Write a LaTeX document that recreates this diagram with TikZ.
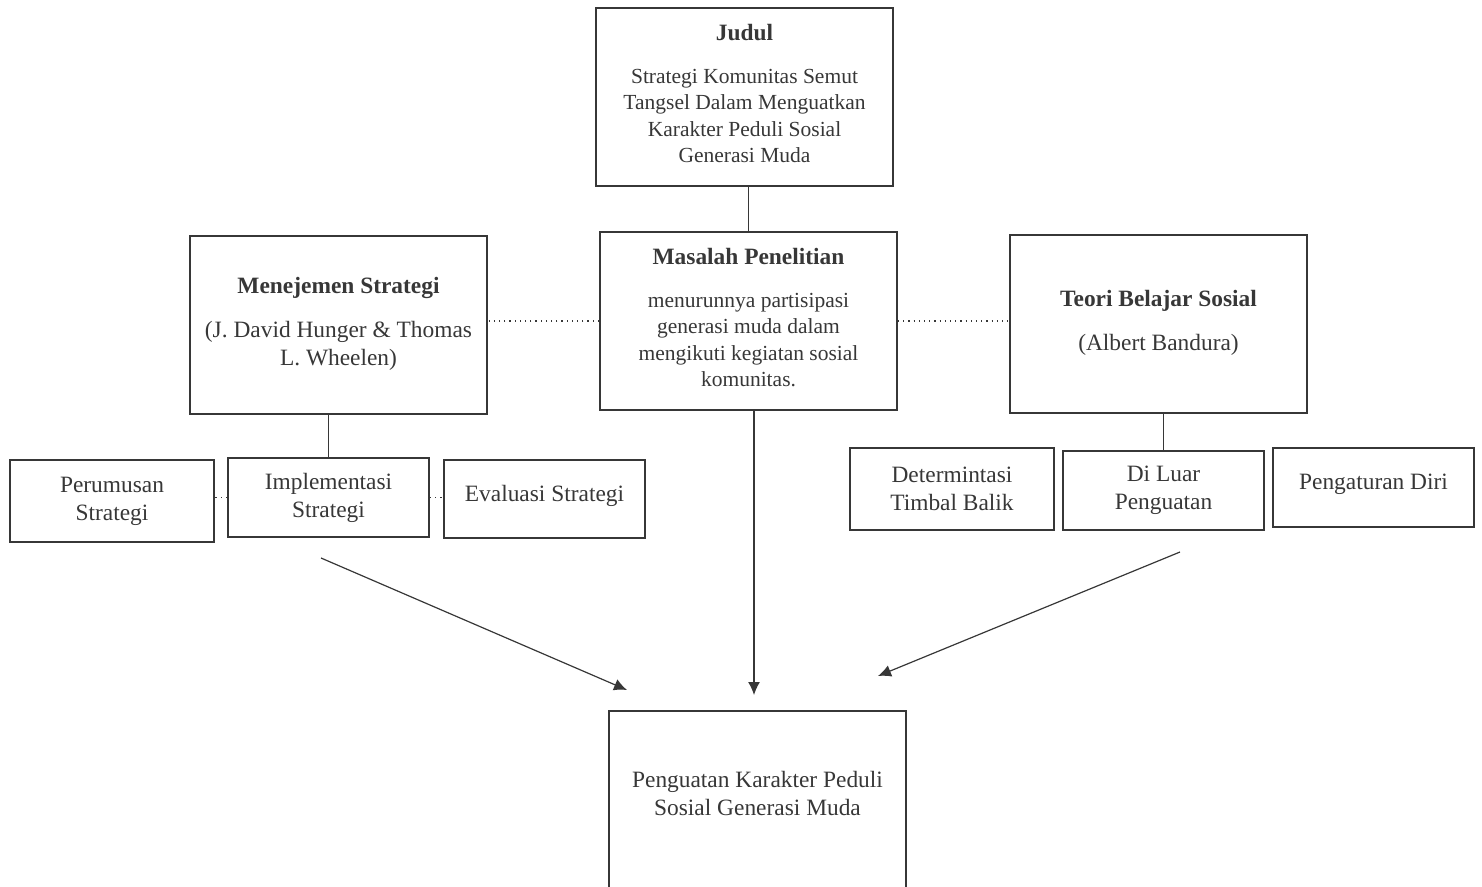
\documentclass[tikz,border=0pt]{standalone}
\usepackage{fontspec}
\setmainfont{Liberation Serif}
\usetikzlibrary{arrows.meta}
\definecolor{inkgray}{RGB}{55,55,55}

\begin{document}
\begin{tikzpicture}[x=0.5pt,y=-0.5pt,
    box/.style={draw=inkgray,line width=1pt,text=inkgray,align=center,inner sep=0pt},
    bigbox/.style={box,minimum width=148.5pt,minimum height=89pt},
    smallbox/.style={box,minimum width=100.5pt,minimum height=39.5pt,font=\fontsize{11.7}{14}\selectfont},
    link/.style={draw=inkgray,line width=0.6pt},
    dots/.style={link,dotted},
    arrow/.style={link,-{Latex[length=6.5pt,width=6pt]}}]
  \useasboundingbox (0,0) rectangle (1482,887);
  \clip (0,0) rectangle (1482,887);

  % upper row
  \node[bigbox,font=\fontsize{10.75}{13.25}\selectfont] (judul) at (744.5,97)
    {{\fontsize{11.7}{13}\selectfont\bfseries Judul}\\[8pt]
     Strategi Komunitas Semut\\Tangsel Dalam Menguatkan\\
     Karakter Peduli Sosial\\Generasi Muda\\[-10pt]};
  \node[bigbox,font=\fontsize{10.75}{13.25}\selectfont] (masalah) at (748.5,321)
    {{\fontsize{11.7}{13}\selectfont\bfseries Masalah Penelitian}\\[8pt]
     menurunnya partisipasi\\generasi muda dalam\\
     mengikuti kegiatan sosial\\komunitas.\\[-10pt]};
  \node[bigbox,font=\fontsize{11.7}{14}\selectfont] (menejemen) at (338.5,325)
    {{\fontsize{11.7}{13}\selectfont\bfseries Menejemen Strategi}\\[8pt]
     (J. David Hunger \& Thomas\\L. Wheelen)\\[-10pt]};
  \node[bigbox,font=\fontsize{11.7}{14}\selectfont] (teori) at (1158.5,324)
    {{\fontsize{11.7}{13}\selectfont\bfseries Teori Belajar Sosial}\\[8pt]
     (Albert Bandura)\\[-10pt]};

  % strategy steps
  \node[smallbox,minimum width=102pt,minimum height=41pt] (perumusan) at (112,501) {Perumusan\\Strategi};
  \node[smallbox] (implementasi) at (328.5,497.5) {Implementasi\\Strategi};
  \node[smallbox,minimum height=39pt] (evaluasi) at (544.5,499) {Evaluasi Strategi\\[-8pt]};

  % learning concepts
  \node[smallbox,minimum width=102pt,minimum height=41pt] (determintasi) at (952,489) {Determintasi\\Timbal Balik};
  \node[smallbox] (diluar) at (1163.5,490.5) {Di Luar\\Penguatan};
  \node[smallbox] (pengaturan) at (1373.5,487.5) {Pengaturan Diri\\[-8pt]};

  % result
  \node[bigbox,minimum height=90pt,font=\fontsize{11.7}{14}\selectfont] (penguatan) at (757.5,801)
    {Penguatan Karakter Peduli\\Sosial Generasi Muda\\[-6pt]};

  % links
  \draw[link] (masalah.north) -- (masalah.north |- judul.south);
  \draw[link] (implementasi.north) -- (implementasi.north |- menejemen.south);
  \draw[link] (diluar.north) -- (diluar.north |- teori.south);
  \draw[dots] (masalah.west) -- (masalah.west -| menejemen.east);
  \draw[dots] (masalah.east) -- (masalah.east -| teori.west);
  \draw[dots] (implementasi.west) -- (implementasi.west -| perumusan.east);
  \draw[dots] (implementasi.east) -- (implementasi.east -| evaluasi.west);

  % arrows
  \coordinate (leftstart) at (321,558);
  \coordinate (lefttip) at (627,690);
  \coordinate (midtip) at (754,695);
  \coordinate (rightstart) at (1180,552);
  \coordinate (righttip) at (878,676);
  \draw[arrow] (leftstart) -- (lefttip);
  \draw[arrow] (masalah.south -| midtip) -- (midtip);
  \draw[arrow] (rightstart) -- (righttip);
\end{tikzpicture}
\end{document}
